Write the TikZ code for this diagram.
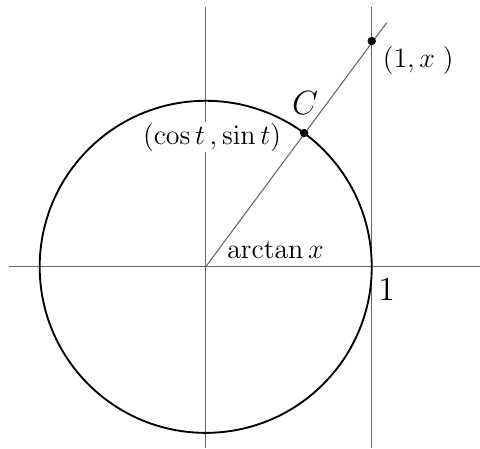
\documentclass[tikz,border=0pt]{standalone}
\usepackage{amsmath}
\usepackage{tikz}
\usetikzlibrary{positioning}

\begin{document}
\begin{tikzpicture}[
    x=2.5cm, y=2.5cm,
    axis/.style={draw=gray!80!black, line width=0.45pt},
    dot/.style={circle, fill=black, inner sep=0pt, minimum size=3.6pt},
    lbl/.style={font=\large, inner sep=1pt}
]
\useasboundingbox (-1.239,-1.092) rectangle (1.652,1.607);

% Axes and the line x = 1
\coordinate (O) at (0,0);
\coordinate (xl) at (-1.185,0);
\coordinate (xr) at (1.652,0);
\coordinate (yt) at (0,1.564);
\coordinate (yb) at (0,-1.092);
\coordinate (vt) at (1,1.564);
\coordinate (vb) at (1,-1.092);
\draw[axis] (xl) -- (xr);
\draw[axis] (yt) -- (yb);
\draw[axis] (vt) -- (vb);

% Unit circle
\draw[black, line width=0.8pt] (O) circle (1);

% Ray through C
\coordinate (rayend) at (1.09,1.47);
\draw[axis] (O) -- (rayend);

% Points
\node[dot] (C) at (53.67:1) {};
\node[dot] (P) at (1,1.36) {};

% Labels
\node[lbl, fill=white, inner sep=0.5pt] (cs) at (0.038,0.781) {$(\cos t\,,\sin t)$};
\node[lbl, font=\Large] (Clbl) at (0.598,0.986) {$C$};
\node[lbl, anchor=west] (Plbl) at (1.05,1.245) {$(1,x\;)$};
\node[lbl] (at) at (0.42,0.10) {$\arctan x$};
\node[font=\Large, inner sep=1pt] (one) at (1.09,-0.14) {$1$};
\end{tikzpicture}
\end{document}
